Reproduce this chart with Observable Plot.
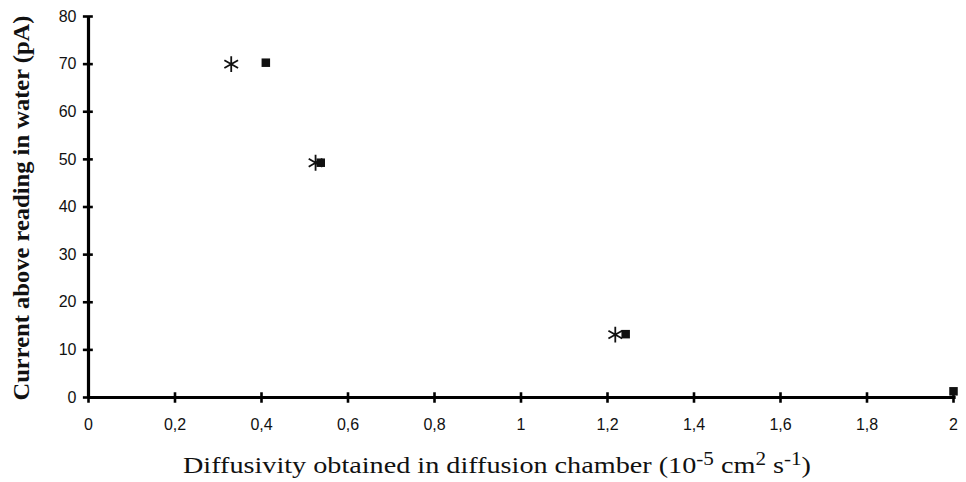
<!DOCTYPE html>
<html>
<head>
<meta charset="utf-8">
<script src="https://cdn.jsdelivr.net/npm/d3@7"></script>
<script src="https://cdn.jsdelivr.net/npm/@observablehq/plot@0.6"></script>
<style>
  html, body { margin: 0; padding: 0; background: #fff; }
  #chart { width: 966px; height: 482px; }
</style>
</head>
<body>
<div id="chart"></div>
<script>
// Tick values
const xTicks = [0, 0.2, 0.4, 0.6, 0.8, 1, 1.2, 1.4, 1.6, 1.8, 2];
const yTicks = [0, 10, 20, 30, 40, 50, 60, 70, 80];

// Series A (asterisk markers)
const asteriskX = [0.33, 0.525, 1.218];
const asteriskY = [70.0, 49.3, 13.2];

// Series B (square markers)
const squareX = [0.41, 0.537, 1.242, 2.0];
const squareY = [70.3, 49.3, 13.3, 1.3];

const xTitle = "Diffusivity obtained in diffusion chamber";
const yTitle = "Current above reading in water (pA)";

const asterisks = asteriskX.map((x, i) => ({x, y: asteriskY[i]}));
const squares = squareX.map((x, i) => ({x, y: squareY[i]}));
const fmt = d => String(d).replace(".", ",");

const plot = Plot.plot({
  width: 966,
  height: 482,
  marginLeft: 88,
  marginRight: 13,
  marginTop: 16,
  marginBottom: 85,
  style: {background: "#fff", color: "#111"},
  x: {domain: [0, 2]},
  y: {domain: [0, 80]},
  marks: [
    Plot.axisX({ticks: xTicks, tickSize: 0, tickPadding: 21, tickFormat: fmt, fontSize: 16, fontFamily: "Liberation Sans, Arial, sans-serif", label: null}),
    Plot.axisY({ticks: yTicks, tickSize: 0, tickPadding: 12, tickFormat: fmt, fontSize: 16, fontFamily: "Liberation Sans, Arial, sans-serif", label: null}),
    // tick marks crossing the axes
    Plot.link(xTicks, {x1: d => d, x2: d => d, y1: -1.1, y2: 1.1, stroke: "#000", strokeWidth: 2.6}),
    Plot.link(yTicks, {y1: d => d, y2: d => d, x1: -0.013, x2: 0.01, stroke: "#000", strokeWidth: 2.6}),
    // axis lines
    Plot.link([0], {x1: 0, x2: 2.005, y1: 0, y2: 0, stroke: "#000", strokeWidth: 3.2}),
    Plot.link([0], {x1: 0, x2: 0, y1: 0, y2: 80, stroke: "#000", strokeWidth: 3.2}),
    Plot.dot(squares, {x: "x", y: "y", symbol: "square", fill: "#111", r: 4.8}),
    Plot.dot(asterisks, {x: "x", y: "y", symbol: "asterisk", stroke: "#111", strokeWidth: 1.8, r: 7.5})
  ]
});

document.getElementById("chart").appendChild(plot);

// Axis titles (serif), with superscripts on the x title
const svg = d3.select(plot);
const xt = svg.append("text")
  .attr("x", 497).attr("y", 473)
  .attr("text-anchor", "middle")
  .attr("font-family", "Liberation Serif, Times New Roman, serif")
  .attr("font-size", 24)
  .attr("textLength", 628)
  .attr("lengthAdjust", "spacingAndGlyphs")
  .attr("fill", "#111");
xt.append("tspan").text(xTitle + " (10");
xt.append("tspan").attr("dy", -8).attr("font-size", 18).text("-5");
xt.append("tspan").attr("dy", 8).text(" cm");
xt.append("tspan").attr("dy", -8).attr("font-size", 18).text("2");
xt.append("tspan").attr("dy", 8).text(" s");
xt.append("tspan").attr("dy", -8).attr("font-size", 18).text("-1");
xt.append("tspan").attr("dy", 8).text(")");

svg.append("text")
  .attr("transform", "translate(29,208) rotate(-90)")
  .attr("text-anchor", "middle")
  .attr("font-family", "Liberation Serif, Times New Roman, serif")
  .attr("font-weight", "bold")
  .attr("font-size", 23)
  .attr("textLength", 385)
  .attr("lengthAdjust", "spacingAndGlyphs")
  .attr("fill", "#111")
  .text(yTitle);
</script>
</body>
</html>
